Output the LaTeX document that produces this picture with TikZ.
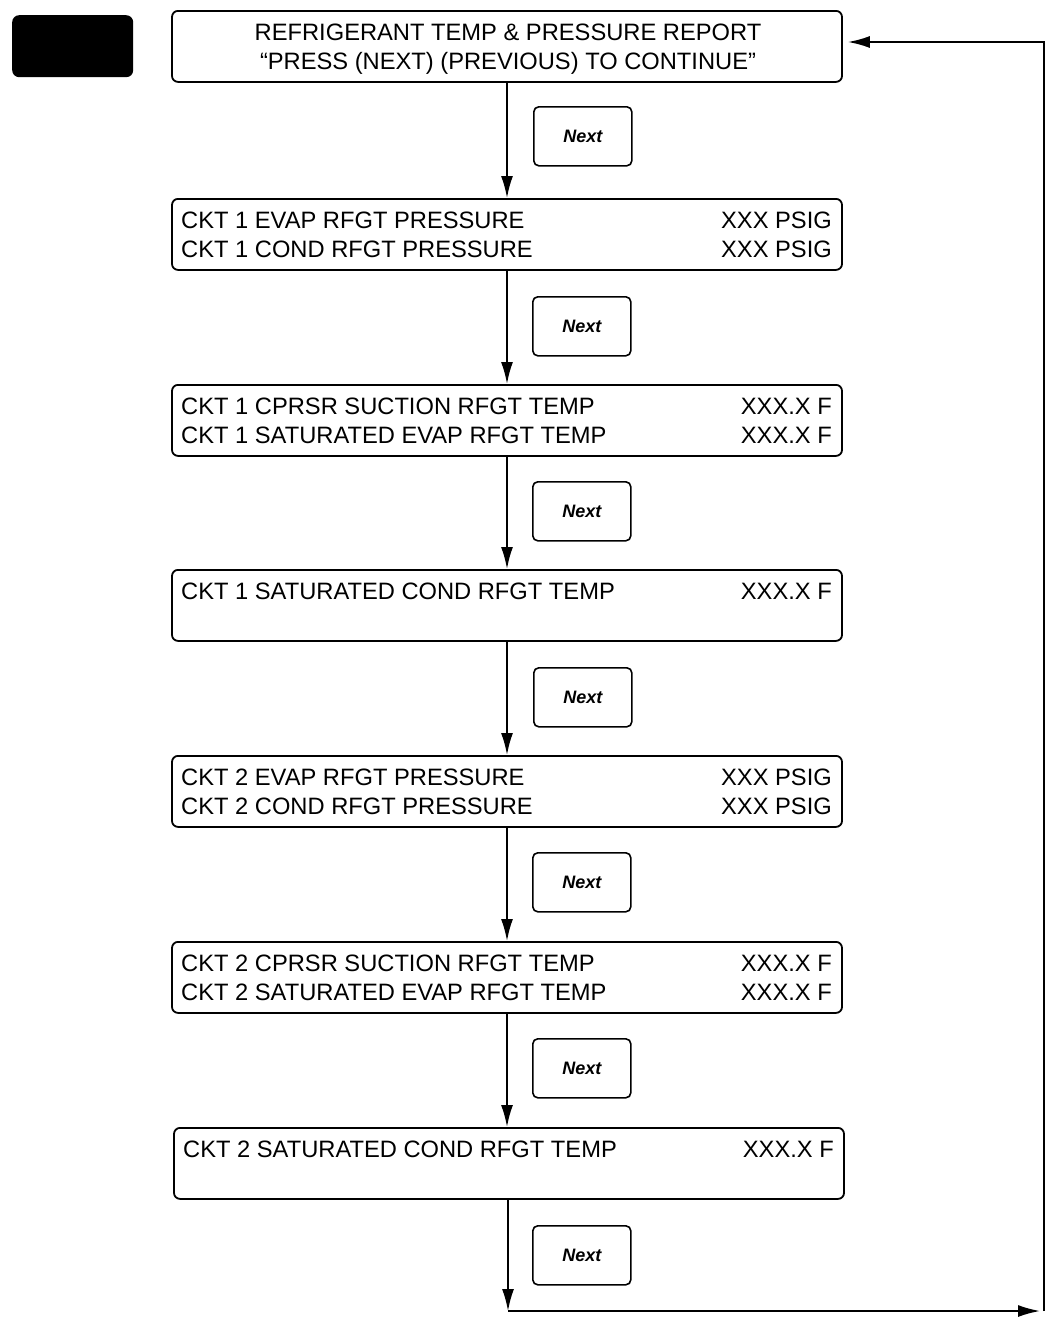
\documentclass[tikz,border=0pt]{standalone}
\usepackage{fontspec}
\setmainfont{Liberation Sans}
\usetikzlibrary{arrows.meta}
\begin{document}
\begin{tikzpicture}[x=1pt,y=-1pt,
  panel/.style={draw,line width=1.8pt,rounded corners=6pt,minimum width=670pt,minimum height=71pt,inner sep=0pt,anchor=north},
  nextbtn/.style={draw,line width=1.6pt,rounded corners=5pt,minimum width=98pt,minimum height=59pt,inner sep=0pt,anchor=north west,font=\fontsize{18}{18}\selectfont\bfseries\itshape},
  txt/.style={font=\fontsize{23.7}{24}\selectfont,inner sep=0pt},
  lt/.style={txt,anchor=base west},
  rt/.style={txt,anchor=base east},
  flow/.style={line width=1.8pt,-{Latex[length=22pt,width=12pt]}}]
\useasboundingbox (0,0) rectangle (1047,1317);
% black tab
\node[fill=black,rounded corners=7pt,minimum width=121pt,minimum height=62pt,inner sep=0pt,anchor=north west] (tab) at (12,15) {};
% panels
\node[panel] (p0) at (507,10) {};
\node[txt,anchor=base] (p0a) at (508,40) {REFRIGERANT TEMP \& PRESSURE REPORT};
\node[txt,anchor=base] (p0b) at (508,69) {“PRESS (NEXT) (PREVIOUS) TO CONTINUE”};

\node[panel] (p1) at (507,198) {};
\node[lt] (p1a) at (181,228) {CKT 1 EVAP RFGT PRESSURE};
\node[lt] (p1b) at (181,257) {CKT 1 COND RFGT PRESSURE};
\node[rt] (p1c) at (832,228) {XXX PSIG};
\node[rt] (p1d) at (832,257) {XXX PSIG};

\node[panel] (p2) at (507,384) {};
\node[lt] (p2a) at (181,414) {CKT 1 CPRSR SUCTION RFGT TEMP};
\node[lt] (p2b) at (181,443) {CKT 1 SATURATED EVAP RFGT TEMP};
\node[rt] (p2c) at (832,414) {XXX.X F};
\node[rt] (p2d) at (832,443) {XXX.X F};

\node[panel] (p3) at (507,569) {};
\node[lt] (p3a) at (181,599) {CKT 1 SATURATED COND RFGT TEMP};
\node[rt] (p3c) at (832,599) {XXX.X F};

\node[panel] (p4) at (507,755) {};
\node[lt] (p4a) at (181,785) {CKT 2 EVAP RFGT PRESSURE};
\node[lt] (p4b) at (181,814) {CKT 2 COND RFGT PRESSURE};
\node[rt] (p4c) at (832,785) {XXX PSIG};
\node[rt] (p4d) at (832,814) {XXX PSIG};

\node[panel] (p5) at (507,941) {};
\node[lt] (p5a) at (181,971) {CKT 2 CPRSR SUCTION RFGT TEMP};
\node[lt] (p5b) at (181,1000) {CKT 2 SATURATED EVAP RFGT TEMP};
\node[rt] (p5c) at (832,971) {XXX.X F};
\node[rt] (p5d) at (832,1000) {XXX.X F};

\node[panel] (p6) at (509,1127) {};
\node[lt] (p6a) at (183,1157) {CKT 2 SATURATED COND RFGT TEMP};
\node[rt] (p6c) at (834,1157) {XXX.X F};

% next buttons
\node[nextbtn] (n0) at (533,106) {Next};
\node[nextbtn] (n1) at (532,296) {Next};
\node[nextbtn] (n2) at (532,481) {Next};
\node[nextbtn] (n3) at (533,667) {Next};
\node[nextbtn] (n4) at (532,852) {Next};
\node[nextbtn] (n5) at (532,1038) {Next};
\node[nextbtn] (n6) at (532,1225) {Next};

% connectors
\draw[flow] (p0.south) -- (p1.north);
\draw[flow] (p1.south) -- (p2.north);
\draw[flow] (p2.south) -- (p3.north);
\draw[flow] (p3.south) -- (p4.north);
\draw[flow] (p4.south) -- (p5.north);
\draw[flow] (p5.south) -- (p6.north -| p5.south);
\coordinate (c1) at (508,1311);
\coordinate (c2) at (1040,1311);
\coordinate (c3) at (1044,1311);
\coordinate (c4) at (1044,42);
\draw[flow] (p6.south -| c1) -- (c1);
\draw[flow] (c1) -- (c2);
\draw[flow,shorten >=5pt] (c3) -- (c4) -- (c4 -| p0.east);
\end{tikzpicture}
\end{document}
